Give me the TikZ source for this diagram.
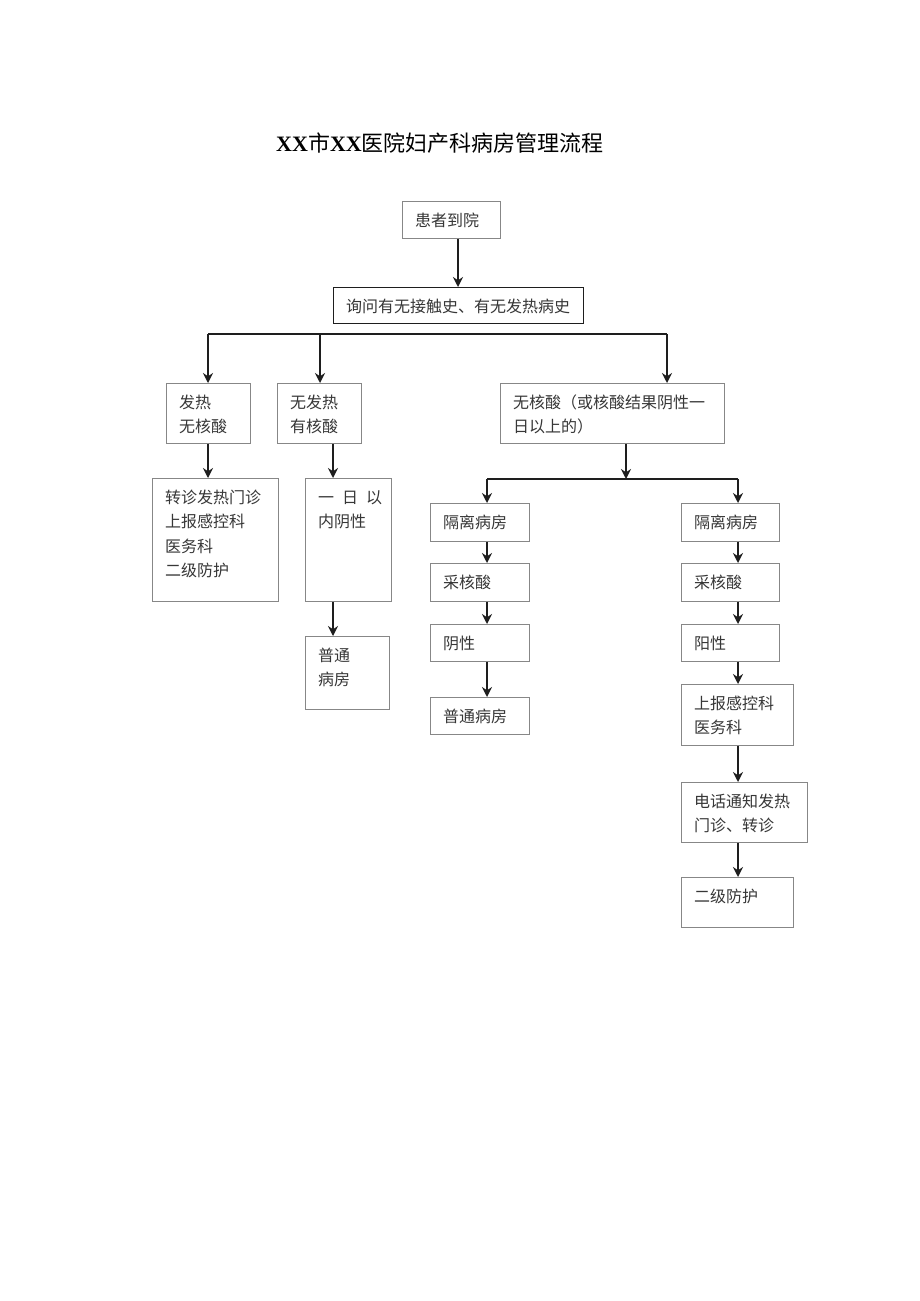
\documentclass[tikz,border=0pt]{standalone}
\usepackage{fontspec}
\setmainfont{Noto Sans CJK SC}
\newfontfamily\latinserif{Liberation Serif}
\usetikzlibrary{arrows.meta,calc}
\definecolor{boxgray}{RGB}{135,135,135}
\definecolor{txtgray}{RGB}{55,55,55}
\definecolor{linedark}{RGB}{30,30,30}
\newcommand\mylines[1]{\begin{tabular}[t]{@{}l@{}}#1\end{tabular}}
\newcommand\mybox[7][]{%
  \node[box,#1, minimum width={(#5-#3)*1pt}, minimum height={(#6-#4)*1pt}] (#2) at (#3,#4) {};
  \node[txt] (#2t) at ({#3+13},{#4+25.5}) {\mylines{#7}};}
\tikzset{
  box/.style={draw=boxgray, line width=0.9pt, inner sep=0pt, anchor=north west},
  strong/.style={draw=linedark, line width=1.4pt},
  txt/.style={inner sep=0pt, anchor=base west, text=txtgray, font=\fontsize{16}{24.3}\selectfont},
  arr/.style={draw=linedark, line width=1.6pt, -{Stealth[length=10pt,width=10pt]}},
  ln/.style={draw=linedark, line width=1.3pt}
}
\begin{document}
\begin{tikzpicture}[x=1pt,y=-1pt]
\fill[white] (0,0) rectangle (920,1301);
\useasboundingbox (0,0) rectangle (920,1301);
\node[font=\fontsize{22}{26}\selectfont, text=black, inner sep=0pt] (title) at (440,143)
  {{\latinserif\bfseries XX}市{\latinserif\bfseries XX}医院妇产科病房管理流程};
\mybox{b1}{402}{201}{500}{238}{患者到院}
\mybox[strong]{b2}{333}{287}{583}{323}{询问有无接触史、有无发热病史}
\mybox{f1}{166}{383}{250}{443}{发热\\无核酸}
\mybox{f2}{277}{383}{361}{443}{无发热\\有核酸}
\mybox{f3}{500}{383}{724}{443}{无核酸（或核酸结果阴性一\\日以上的）}
\mybox{g1}{152}{478}{278}{601}{转诊发热门诊\\上报感控科\\医务科\\二级防护}
\mybox{g2}{305}{478}{391}{601}{一\hspace{8pt}日\hspace{8pt}以\\内阴性}
\mybox{g3}{305}{636}{389}{709}{普通\\病房}
\mybox{l1}{430}{503}{529}{541}{隔离病房}
\mybox{l2}{430}{563}{529}{601}{采核酸}
\mybox{l3}{430}{624}{529}{661}{阴性}
\mybox{l4}{430}{697}{529}{734}{普通病房}
\mybox{r1}{681}{503}{779}{541}{隔离病房}
\mybox{r2}{681}{563}{779}{601}{采核酸}
\mybox{r3}{681}{624}{779}{661}{阳性}
\mybox{r4}{681}{684}{793}{745}{上报感控科\\医务科}
\mybox{r5}{681}{782}{807}{842}{电话通知发热\\门诊、转诊}
\mybox{r6}{681}{877}{793}{927}{二级防护}
% connectors
\coordinate (a0) at (458,0);
\draw[arr] (a0 |- b1.south) -- (a0 |- b2.north);
\coordinate (c1) at (208,334);
\coordinate (c3) at (320,334);
\coordinate (c2) at (667,334);
\draw[ln] (c1) -- (c2);
\draw[arr] (c1) -- (c1 |- f1.north);
\draw[arr] (c3) -- (c3 |- f2.north);
\draw[arr] (c2) -- (c2 |- f3.north);
\coordinate (x1) at (208,0);
\draw[arr] (x1 |- f1.south) -- (x1 |- g1.north);
\coordinate (x2) at (333,0);
\draw[arr] (x2 |- f2.south) -- (x2 |- g2.north);
\draw[arr] (x2 |- g2.south) -- (x2 |- g3.north);
\coordinate (j) at (626,479);
\coordinate (jl) at (487,479);
\coordinate (jr) at (738,479);
\draw[arr] (j |- f3.south) -- (j);
\draw[ln] (jl) -- (jr);
\draw[arr] (jl) -- (jl |- l1.north);
\draw[arr] (jr) -- (jr |- r1.north);
\foreach \a/\b in {l1/l2,l2/l3,l3/l4}{\draw[arr] (jl |- \a.south) -- (jl |- \b.north);}
\foreach \a/\b in {r1/r2,r2/r3,r3/r4,r4/r5,r5/r6}{\draw[arr] (jr |- \a.south) -- (jr |- \b.north);}
\end{tikzpicture}
\end{document}
